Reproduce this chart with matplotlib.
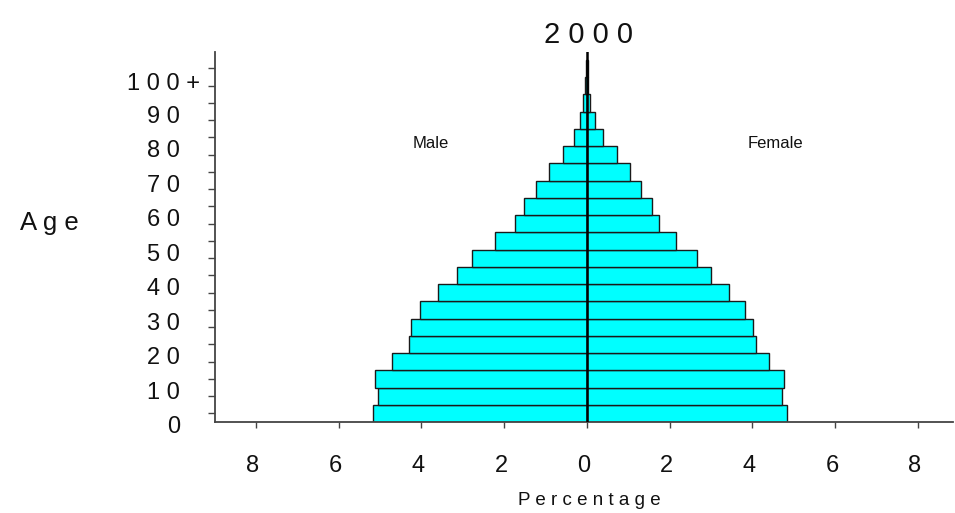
import numpy as np
import matplotlib
matplotlib.use("Agg")
import matplotlib.pyplot as plt
from matplotlib import transforms

plt.rcParams['font.family'] = ['Liberation Sans', 'DejaVu Sans']

# data: share of population (%) per 5-year age group, year 2000
age_groups = ['0-4', '5-9', '10-14', '15-19', '20-24', '25-29', '30-34', '35-39',
              '40-44', '45-49', '50-54', '55-59', '60-64', '65-69', '70-74',
              '75-79', '80-84', '85-89', '90-94', '95-99', '100+']
male = [5.16, 5.04, 5.11, 4.70, 4.30, 4.25, 4.03, 3.59, 3.14, 2.78, 2.21,
        1.73, 1.51, 1.22, 0.92, 0.58, 0.30, 0.17, 0.09, 0.04, 0.02]
female = [4.84, 4.71, 4.76, 4.41, 4.08, 4.02, 3.82, 3.43, 2.99, 2.66, 2.15,
          1.74, 1.57, 1.30, 1.04, 0.73, 0.39, 0.19, 0.07, 0.03, 0.02]
age_labels = ['0', '10', '20', '30', '40', '50', '60', '70', '80', '90', '100+']
x_ticks = [-8, -6, -4, -2, 0, 2, 4, 6, 8]
title = '2000'

W, H = 955, 513
fig = plt.figure(figsize=(W / 100, H / 100), dpi=100)
ax = fig.add_axes([214.5 / W, 1 - 422 / H, 738.5 / W, 370 / H])

y = np.arange(len(age_groups))
ax.barh(y, -np.array(male), height=1.0, color='#00FFFF', edgecolor='#1a1a1a', linewidth=1)
ax.barh(y, female, height=1.0, color='#00FFFF', edgecolor='#1a1a1a', linewidth=1)
ax.axvline(0, color='black', lw=1.8, zorder=3)

ax.set_xlim(-9, 8.85)
ax.set_ylim(-0.5, 20.95)

for s in ['top', 'right']:
    ax.spines[s].set_visible(False)
for s in ['left', 'bottom']:
    ax.spines[s].set_color('#444444')
    ax.spines[s].set_linewidth(1.3)

# x axis: ticks downward, labels far below
ax.set_xticks(x_ticks)
ax.set_xticklabels([str(abs(v)) for v in x_ticks], fontsize=17, color='#111111')
ax.tick_params(axis='x', direction='out', length=4, width=1, color='#444444', pad=20)
shift = transforms.ScaledTranslation(-3 / 100, 0, fig.dpi_scale_trans)
for lab in ax.get_xticklabels():
    lab.set_transform(lab.get_transform() + shift)

# y axis: a tick per age group, labels every 10 years
ax.set_yticks(y)
ax.set_yticklabels([])
ax.tick_params(axis='y', direction='out', length=5, width=1, color='#444444')
blend = transforms.blended_transform_factory(ax.transAxes, ax.transData)
for k, lab in enumerate(age_labels):
    xpos = -34.5 / 738.5 if not lab.endswith('+') else -14.5 / 738.5
    ypos = 2 * k - 0.8 if not lab.endswith('+') else 2 * k - 0.9
    ax.text(xpos, ypos, ' '.join(lab), transform=blend, ha='right', va='center',
            fontsize=17, color='#111111')

# titles and side labels
fig.text(588 / W, 1 - 43.3 / H, ' '.join(title), ha='center', va='baseline', fontsize=21, color='#111111')
fig.text(20 / W, 1 - 230 / H, 'A g e', ha='left', va='baseline', fontsize=18.5, color='#111111')
fig.text(589 / W, 1 - 505 / H, ' '.join('Percentage'), ha='center', va='baseline', fontsize=13.5, color='#111111')
fig.text(430.5 / W, 1 - 148.3 / H, 'Male', ha='center', va='baseline', fontsize=12, color='#111111')
fig.text(775.5 / W, 1 - 148.3 / H, 'Female', ha='center', va='baseline', fontsize=12, color='#111111')

fig.savefig('out.png', dpi=100)
